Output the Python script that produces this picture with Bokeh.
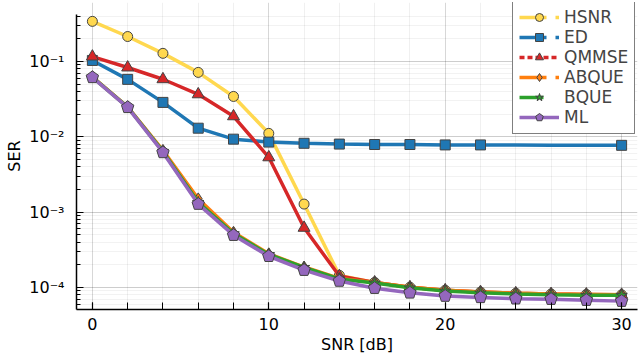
from bokeh.plotting import figure
from bokeh.models import (Range1d, SingleIntervalTicker, LogTicker, CustomJSTickFormatter,
                          Legend, LegendItem)
from bokeh.embed import file_html
from bokeh.resources import INLINE

snr = [0, 2, 4, 6, 8, 10, 12, 14, 16, 18, 20, 22, 24, 26, 28, 30]
hsnr = [0.34, 0.214, 0.128, 0.0715, 0.0343, 0.0111, 0.00128, 1.45e-4, 1.17e-4, 1.01e-4,
        9.2e-5, 8.7e-5, 8.4e-5, 8.2e-5, 8.1e-5, 8.0e-5]
ed = [0.103, 0.0578, 0.0286, 0.013, 0.0093, 0.0085, 0.0082, 0.0080, 0.0079, 0.0079,
      0.0078, 0.0078, 0.0078, 0.0077, 0.0077, 0.0077]
ed_marker_idx = [0, 1, 2, 3, 4, 5, 6, 7, 8, 9, 10, 11, 15]
qmmse = [0.116, 0.083, 0.058, 0.0366, 0.0187, 0.00534, 6.2e-4, 1.42e-4, 1.17e-4, 1.01e-4,
         9.2e-5, 8.7e-5, 8.4e-5, 8.2e-5, 8.1e-5, 8.0e-5]
abque = [0.0625, 0.0250, 0.0066, 0.00150, 5.4e-4, 2.8e-4, 1.87e-4, 1.32e-4, 1.17e-4, 1.01e-4,
         9.2e-5, 8.7e-5, 8.4e-5, 8.2e-5, 8.1e-5, 8.0e-5]
bque = [0.062, 0.0248, 0.0064, 0.00135, 5.2e-4, 2.75e-4, 1.85e-4, 1.3e-4, 1.15e-4, 9.9e-5,
        9.0e-5, 8.5e-5, 8.2e-5, 8.0e-5, 7.9e-5, 7.9e-5]
ml = [0.0614, 0.0246, 0.0062, 0.00128, 4.95e-4, 2.6e-4, 1.7e-4, 1.22e-4, 9.8e-5, 8.5e-5,
      7.7e-5, 7.4e-5, 7.1e-5, 7.0e-5, 6.8e-5, 6.6e-5]

FONT = "DejaVu Sans"
NAN = float("nan")
Y_LO, Y_AX_HI, Y_HI = 5.11e-5, 0.42, 0.605
OUTLINE = "#444444"

p = figure(width=640, height=359, output_backend="svg", toolbar_location=None,
           y_axis_type="log", x_range=Range1d(-0.9, 30.9), y_range=Range1d(Y_LO, Y_HI),
           min_border_left=76, min_border_right=3, min_border_top=2, min_border_bottom=50)
p.outline_line_color = None
p.background_fill_color = "white"
p.border_fill_color = "white"

p.xaxis.ticker = SingleIntervalTicker(interval=10, num_minor_ticks=5)
p.yaxis.ticker = LogTicker(num_minor_ticks=10)
p.yaxis.bounds = (Y_LO, Y_AX_HI)
p.ygrid.bounds = (Y_LO, Y_AX_HI)
p.yaxis.formatter = CustomJSTickFormatter(code="""
const sup = {"-":"\u207b","0":"\u2070","1":"\u00b9","2":"\u00b2","3":"\u00b3","4":"\u2074",
             "5":"\u2075","6":"\u2076","7":"\u2077","8":"\u2078","9":"\u2079"};
const e = Math.round(Math.log10(tick));
return "10" + String(e).split("").map(c => sup[c]).join("");
""")
for ax in (p.xaxis[0], p.yaxis[0]):
    ax.axis_line_color = "black"
    ax.axis_line_width = 1.5
    ax.major_tick_in = 7
    ax.major_tick_out = 0
    ax.minor_tick_in = 4
    ax.minor_tick_out = 0
    ax.major_tick_line_color = "black"
    ax.minor_tick_line_color = "black"
    ax.major_tick_line_width = 1.2
    ax.major_label_text_font = FONT
    ax.major_label_text_font_size = "16px"
    ax.major_label_text_color = "black"
    ax.axis_label_text_font = FONT
    ax.axis_label_text_font_size = "16px"
    ax.axis_label_text_font_style = "normal"
    ax.axis_label_text_color = "black"
p.xaxis.minor_tick_in = 7
p.xaxis.major_label_standoff = 8
p.xaxis.axis_label_standoff = 2
p.yaxis.major_label_standoff = 12
p.yaxis.axis_label_standoff = 2
p.xaxis.axis_label = "SNR [dB]"
p.yaxis.axis_label = "SER"

p.xgrid.grid_line_color = "black"
p.xgrid.grid_line_alpha = 0.1
p.xgrid.minor_grid_line_color = "black"
p.xgrid.minor_grid_line_alpha = 0.06
p.ygrid.grid_line_color = "black"
p.ygrid.grid_line_alpha = 0.1
p.ygrid.minor_grid_line_color = "black"
p.ygrid.minor_grid_line_alpha = 0.05

LW = 3.5
items = []

def series(name, ys, color, marker, legend_dash, idx=None, size=10):
    p.line(snr, ys, line_color=color, line_width=LW)
    if idx is None:
        idx = list(range(len(snr)))
    xs = [snr[i] for i in idx]
    yv = [ys[i] for i in idx]
    if marker == "pentagon":
        mr = p.ngon(xs, yv, radius=6.5, radius_units="screen", n=5, angle=0.0,
                    fill_color=color, line_color=OUTLINE, line_width=1)
    else:
        mr = p.scatter(xs, yv, marker=marker, size=size, fill_color=color,
                       line_color=OUTLINE, line_width=1)
    # legend-only line sample (NaN data: nothing drawn in the plot area)
    dl = p.line([snr[0]], [NAN], line_color=color, line_width=LW, line_dash=legend_dash)
    items.append(LegendItem(label=name, renderers=[dl, mr]))

series("HSNR", hsnr, "#ffd84f", "circle", "27 9 4")
series("ED", ed, "#1f77b4", "square", "27 9 4", idx=ed_marker_idx)
series("QMMSE", qmmse, "#d62728", "triangle", "5 3", size=12)
series("ABQUE", abque, "#ff7f0e", "diamond", "27 9 4", size=12)
series("BQUE", bque, "#2ca02c", "star", "24 16", size=12)
series("ML", ml, "#9467bd", "pentagon", "solid")

legend = Legend(items=items, location=(436, 175), margin=0, padding=6, spacing=0,
                glyph_width=40, glyph_height=20, label_height=20, label_standoff=5,
                label_text_font=FONT, label_text_font_size="17px",
                border_line_color="black", border_line_width=1.5,
                background_fill_color="white", background_fill_alpha=1)
p.add_layout(legend)

open("out.html", "w").write(file_html(p, INLINE))
